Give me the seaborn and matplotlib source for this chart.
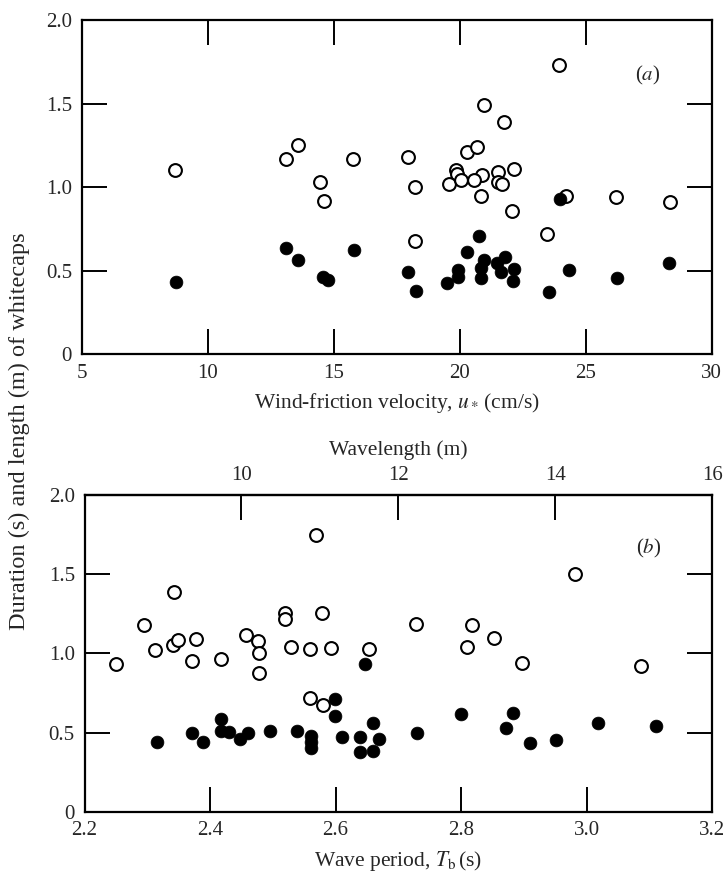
import matplotlib
matplotlib.use("Agg")
import matplotlib.pyplot as plt
import seaborn as sns

# panel (a): wind-friction velocity (cm/s) vs duration / length
a_open_x = [8.69, 13.11, 13.60, 15.78, 14.46, 14.63, 23.94, 20.97, 21.76, 17.93,
            20.28, 20.70, 22.15, 19.87, 19.91, 21.52, 21.52, 21.69, 20.90, 19.58,
            20.04, 20.57, 18.23, 20.84, 22.09, 24.20, 26.22, 28.33, 18.23, 23.47]
a_open_y = [1.10, 1.17, 1.25, 1.17, 1.03, 0.92, 1.73, 1.49, 1.39, 1.18,
            1.21, 1.24, 1.11, 1.10, 1.08, 1.09, 1.03, 1.02, 1.07, 1.02,
            1.04, 1.04, 1.00, 0.95, 0.86, 0.95, 0.94, 0.91, 0.675, 0.72]
a_fill_x = [8.73, 13.09, 13.58, 14.57, 14.76, 15.82, 24.00, 20.77, 20.30, 17.96,
            18.26, 19.51, 19.95, 19.95, 20.97, 20.84, 20.84, 21.49, 21.80, 21.62,
            22.15, 22.13, 24.33, 23.54, 26.24, 28.32]
a_fill_y = [0.43, 0.635, 0.565, 0.465, 0.445, 0.625, 0.93, 0.71, 0.615, 0.49,
            0.38, 0.425, 0.505, 0.465, 0.565, 0.515, 0.455, 0.545, 0.58, 0.49,
            0.51, 0.44, 0.505, 0.37, 0.455, 0.545]

# panel (b): wave period (s) vs duration / length
b_open_x = [2.250, 2.294, 2.313, 2.343, 2.341, 2.349, 2.377, 2.372, 2.418, 2.458,
            2.477, 2.478, 2.478, 2.520, 2.520, 2.529, 2.569, 2.579, 2.559, 2.592,
            2.654, 2.560, 2.580, 2.729, 2.818, 2.809, 2.853, 2.897, 2.982, 3.087]
b_open_y = [0.93, 1.18, 1.02, 1.39, 1.05, 1.085, 1.09, 0.95, 0.965, 1.115,
            1.08, 1.005, 0.875, 1.253, 1.217, 1.04, 1.75, 1.257, 1.026, 1.036,
            1.026, 0.72, 0.674, 1.186, 1.18, 1.04, 1.10, 0.94, 1.50, 0.92]
b_fill_x = [2.316, 2.371, 2.389, 2.418, 2.417, 2.430, 2.447, 2.461, 2.496, 2.539,
            2.561, 2.561, 2.561, 2.599, 2.599, 2.610, 2.639, 2.639, 2.647, 2.660,
            2.660, 2.669, 2.730, 2.800, 2.871, 2.882, 2.910, 2.952, 3.019, 3.110]
b_fill_y = [0.44, 0.50, 0.44, 0.585, 0.51, 0.505, 0.46, 0.50, 0.51, 0.51,
            0.48, 0.44, 0.40, 0.71, 0.606, 0.474, 0.474, 0.375, 0.93, 0.562,
            0.385, 0.457, 0.50, 0.62, 0.53, 0.625, 0.436, 0.453, 0.562, 0.543]

y_ticks = [0, 0.5, 1.0, 1.5, 2.0]
y_labels = ["0", "0.5", "1.0", "1.5", "2.0"]
a_xticks = [5, 10, 15, 20, 25, 30]
b_xticks = [2.2, 2.4, 2.6, 2.8, 3.0, 3.2]
b_xlabels = ["2.2", "2.4", "2.6", "2.8", "3.0", "3.2"]
wl_ticks = [10, 12, 14, 16]

sns.set_theme(style="ticks")
plt.rcParams["font.family"] = ["Liberation Serif", "DejaVu Serif"]
plt.rcParams["mathtext.fontset"] = "stix"

fs = 15
lfs = 15.5
tick_kw = dict(direction="in", length=18, width=1.4, pad=7, labelsize=fs, color="black")

fig = plt.figure(figsize=(7.28, 8.75), dpi=100)
ax1 = fig.add_axes([0.1122, 0.5951, 0.8654, 0.382])
ax2 = fig.add_axes([0.1161, 0.0723, 0.8620, 0.362])

ms = 85
for ax, ox, oy, fx, fy in [(ax1, a_open_x, a_open_y, a_fill_x, a_fill_y),
                           (ax2, b_open_x, b_open_y, b_fill_x, b_fill_y)]:
    sns.scatterplot(x=ox, y=oy, ax=ax, s=ms, facecolor="white", edgecolor="black",
                    linewidth=1.5, zorder=3)
    sns.scatterplot(x=fx, y=fy, ax=ax, s=ms, color="black", edgecolor="black",
                    linewidth=0.5, zorder=4)
    ax.set_ylim(0, 2.0)
    ax.set_yticks(y_ticks)
    ax.set_yticklabels(y_labels)
    for sp in ax.spines.values():
        sp.set_visible(True)
        sp.set_linewidth(1.6)
        sp.set_color("black")

# panel (a)
ax1.set_xlim(5, 30)
ax1.set_xticks(a_xticks)
ax1.tick_params(axis="both", top=True, right=True, **tick_kw)
ax1.set_xlabel(r"Wind-friction velocity, $u_*\,$(cm/s)", fontsize=lfs, labelpad=6)
ax1.text(0.898, 0.835, r"($\it{a}$)", transform=ax1.transAxes, fontsize=fs,
         ha="center", va="center")

# panel (b)
ax2.set_xlim(2.2, 3.2)
ax2.set_xticks(b_xticks)
ax2.set_xticklabels(b_xlabels)
ax2.tick_params(axis="both", top=False, right=True, **tick_kw)
ax2.set_xlabel(r"Wave period, $T_\mathrm{b}\,$(s)", fontsize=lfs, labelpad=6)
ax2.text(0.899, 0.831, r"($\it{b}$)", transform=ax2.transAxes, fontsize=fs,
         ha="center", va="center")

sec = ax2.secondary_xaxis("top", functions=(lambda t: 8 + (t - 2.2) * 8,
                                            lambda w: 2.2 + (w - 8) / 8))
sec.set_xticks(wl_ticks)
sec.set_xticklabels([str(w) for w in wl_ticks])
sec.tick_params(**tick_kw)
sec.spines["top"].set_linewidth(1.6)
sec.set_xlabel("Wavelength (m)", fontsize=lfs, labelpad=8)

fig.text(0.026, 0.507, "Duration (s) and length (m) of whitecaps", rotation=90,
         fontsize=17.5, ha="center", va="center")

fig.savefig("out.png", dpi=100)
